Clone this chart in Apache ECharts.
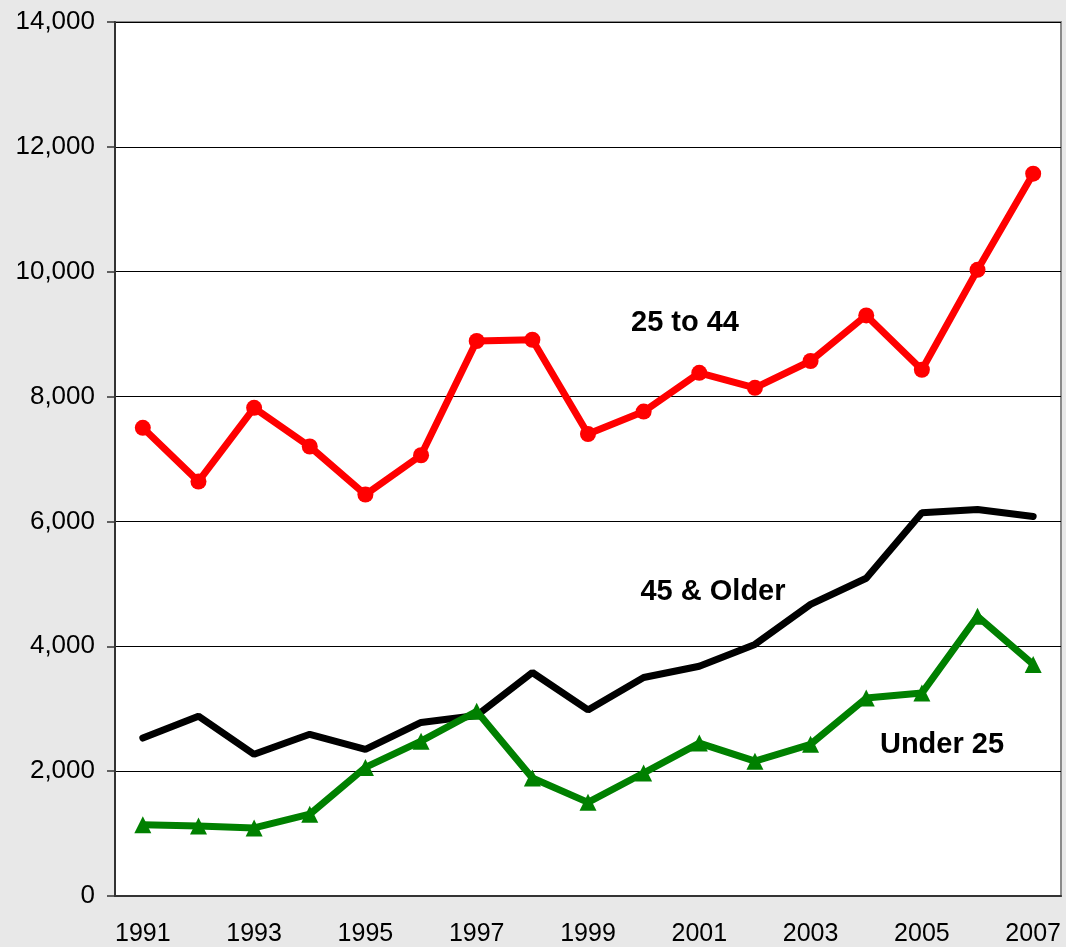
<!DOCTYPE html>
<html>
<head>
<meta charset="utf-8">
<script src="https://cdn.jsdelivr.net/npm/echarts@6/dist/echarts.min.js"></script>
<style>
  html, body { margin: 0; padding: 0; background: #e8e8e8; }
  #chart { width: 1066px; height: 947px; }
</style>
</head>
<body>
<div id="chart"></div>
<script>
  const years = ['1991', '1992', '1993', '1994', '1995', '1996', '1997', '1998', '1999',
    '2000', '2001', '2002', '2003', '2004', '2005', '2006', '2007']
  const age25to44 = [7500, 6640, 7820, 7200, 6430, 7060, 8890, 8910, 7400,
    7760, 8380, 8140, 8570, 9300, 8430, 10030, 11570]
  const age45older = [2530, 2880, 2270, 2590, 2350, 2780, 2890, 3580, 2980,
    3500, 3680, 4030, 4670, 5090, 6140, 6190, 6080]
  const under25 = [1140, 1120, 1090, 1310, 2060, 2480, 2960, 1890, 1500,
    1970, 2450, 2160, 2430, 3170, 3250, 4480, 3710]

  const chart = echarts.init(document.getElementById('chart'))
  const font = '"Liberation Sans", Arial, sans-serif'

  const option = {
    backgroundColor: '#e8e8e8',
    animation: false,
    grid: {
      left: 115,
      right: 5,
      top: 22,
      bottom: 50,
      show: true,
      backgroundColor: '#ffffff',
      borderColor: '#8a8a8a',
      borderWidth: 2
    },
    xAxis: {
      type: 'category',
      data: years,
      boundaryGap: true,
      axisLine: { lineStyle: { color: '#333', width: 2 } },
      axisTick: { inside: true, length: 8, interval: 0, lineStyle: { color: '#333', width: 2 } },
      axisLabel: { interval: 1, color: '#000', fontSize: 25, fontFamily: font, margin: 26 }
    },
    yAxis: {
      type: 'value',
      min: 0,
      max: 14000,
      interval: 2000,
      axisLine: { show: true, lineStyle: { color: '#333', width: 2 } },
      axisTick: { show: true, length: 8, lineStyle: { color: '#333', width: 1.5 } },
      splitLine: { lineStyle: { color: '#000', width: 1 } },
      axisLabel: {
        color: '#000', fontSize: 26, fontFamily: font, margin: 20,
        formatter: (v) => v.toLocaleString('en-US')
      }
    },
    series: [
      {
        name: '45 & Older',
        type: 'line',
        data: age45older,
        symbol: 'none',
        lineStyle: { color: '#000', width: 7, cap: 'round' },
        z: 2
      },
      {
        name: 'Under 25',
        type: 'line',
        data: under25,
        symbol: 'triangle',
        symbolSize: 17,
        itemStyle: { color: '#008000' },
        lineStyle: { color: '#008000', width: 7 },
        z: 3
      },
      {
        name: '25 to 44',
        type: 'line',
        data: age25to44,
        symbol: 'circle',
        symbolSize: 16,
        itemStyle: { color: '#ff0000' },
        lineStyle: { color: '#ff0000', width: 7 },
        z: 4
      }
    ],
    graphic: [
      { type: 'text', x: 685, y: 323, style: { text: '25 to 44', fill: '#000', font: 'bold 29px ' + font, align: 'center', verticalAlign: 'middle' } },
      { type: 'text', x: 713, y: 592, style: { text: '45 & Older', fill: '#000', font: 'bold 29px ' + font, align: 'center', verticalAlign: 'middle' } },
      { type: 'text', x: 942, y: 745, style: { text: 'Under 25', fill: '#000', font: 'bold 29px ' + font, align: 'center', verticalAlign: 'middle' } }
    ]
  }

  chart.setOption(option)
</script>
</body>
</html>
